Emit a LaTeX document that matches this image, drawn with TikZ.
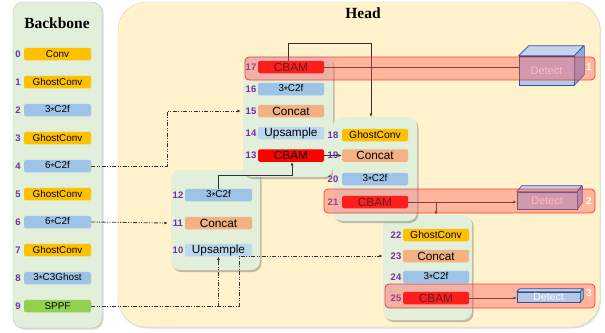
\documentclass[tikz,border=0pt]{standalone}
\usepackage{fontspec}
\setmainfont{Liberation Serif}
\setsansfont{Liberation Sans}
\usetikzlibrary{arrows.meta,shadows,fit}
\definecolor{bbgreen}{HTML}{E2EFDA}
\definecolor{headbg}{HTML}{FFF2CC}
\definecolor{cgold}{HTML}{FFC000}
\definecolor{cblue}{HTML}{9DC3E6}
\definecolor{cltblue}{HTML}{BDD7EE}
\definecolor{csalmon}{HTML}{F4B183}
\definecolor{cgreen}{HTML}{92D050}
\definecolor{cred}{HTML}{FF0000}
\definecolor{cpurple}{HTML}{7030A0}
\definecolor{cubefront}{HTML}{B4C7E7}
\definecolor{cubetop}{HTML}{C5D4EE}
\definecolor{cubedark}{HTML}{8FAADC}
\definecolor{cubeline}{HTML}{2F528F}
\definecolor{bandfill}{HTML}{FF5050}
\definecolor{lineg}{HTML}{333333}
\newcommand\fsz[1]{\fontsize{#1}{#1}\selectfont}
\newcommand\st{\raisebox{-1.3pt}{*}}
\begin{document}
\begin{tikzpicture}[x=1pt,y=-1pt,
  blk/.style={rounded corners=1.5pt, minimum height=12.5pt, inner sep=0pt, font=\sffamily\fsz{9.9}},
  bb/.style={blk, minimum width=67pt},
  hd/.style={blk, minimum width=66pt},
  big/.style={font=\sffamily\fsz{11.8}},
  mid/.style={font=\sffamily\fsz{10.3}},
  num/.style={font=\sffamily\bfseries\fsz{9.5}, text=cpurple, inner sep=1pt},
  panel/.style={rounded corners=9pt, fill=bbgreen, inner sep=0pt,
    drop shadow={shadow xshift=1.5pt, shadow yshift=-2pt, opacity=0.35, fill=black!70}},
  band/.style={rounded corners=4pt, fill=bandfill, fill opacity=0.38, draw=red, draw opacity=0.7, line width=0.8pt, inner sep=0pt},
  conn/.style={draw=lineg, line width=1pt},
  dd/.style={draw=lineg, line width=0.85pt, dash pattern=on 4pt off 1.5pt on 1pt off 1.5pt on 1pt off 1.5pt},
  arr/.style={-{Latex[length=3.4pt,width=2.8pt]}},
  cubef/.style={draw=cubeline, fill=cubefront, line width=0.6pt, inner sep=0pt, text=white, font=\sffamily\fsz{11}},
  cubee/.style={draw=cubeline, line width=0.6pt, line join=round},
  bandnum/.style={font=\sffamily\bfseries\fsz{10}, text=white, inner sep=0pt}
]
\useasboundingbox (0,0) rectangle (605,332);
% big panels
\node[fit={(118,2) (600,327)}, inner sep=0pt, rounded corners=28pt, fill=headbg, draw=black!18,
  drop shadow={shadow xshift=1pt, shadow yshift=-1.5pt, opacity=0.25}] (head) {};
\node[fit={(13,2) (102,328)}, inner sep=0pt, rounded corners=10pt, fill=bbgreen, draw=black!25,
  drop shadow={shadow xshift=1.5pt, shadow yshift=-1.5pt, opacity=0.3}] (back) {};
\node[font=\bfseries\fsz{15.5}] (tback) at (57,23) {Backbone};
\node[font=\bfseries\fsz{15.5}] (thead) at (363,13) {Head};
% backbone blocks
\foreach \i/\t/\c in {0/Conv/cgold,1/GhostConv/cgold,2/3\st C2f/cblue,3/GhostConv/cgold,
  4/6\st C2f/cblue,5/GhostConv/cgold,6/6\st C2f/cblue,7/GhostConv/cgold,8/3\st C3Ghost/cblue,9/SPPF/cgreen}{
  \node[bb, fill=\c] (b\i) at (57.5,54+28*\i) {\t};
  \node[num] (nb\i) at (18,54+28*\i) {\i};
}
% head sub-panels
\node[panel, fit={(171,170) (260,270)}] (pC) {};
\node[panel, fit={(383,215) (472,320)}] (pD) {};
\node[panel, fit={(243,56) (333,177)}] (pA) {};
\node[panel, fit={(333,117) (417,221)}] (pB) {};
% column A
\node[hd, big, fill=cred] (c17) at (291,67) {CBAM};
\node[hd, fill=cblue] (c16) at (291,89) {3\st C2f};
\node[hd, big, fill=csalmon] (c15) at (291,111) {Concat};
\node[hd, big, fill=cltblue] (c14) at (291,133) {Upsample};
\node[hd, big, fill=cred] (c13) at (291,155.5) {CBAM};
\foreach \i/\y in {17/67,16/89,15/111,14/133,13/155.5}{\node[num] (n\i) at (251,\y) {\i};}
% column B
\node[hd, mid, fill=cgold] (c18) at (375,135) {GhostConv};
\node[hd, big, fill=csalmon] (c19) at (375,155.5) {Concat};
\node[hd, fill=cblue] (c20) at (375,179) {3\st C2f};
\node[hd, big, fill=cred] (c21) at (375,202) {CBAM};
% column C
\node[hd, minimum width=67pt, fill=cblue] (c12) at (218.5,195) {3\st C2f};
\node[hd, big, minimum width=67pt, fill=csalmon] (c11) at (218.5,223) {Concat};
\node[hd, big, minimum width=67pt, fill=cltblue] (c10) at (218.5,250) {Upsample};
\foreach \i/\y in {12/195,11/223,10/250}{\node[num] (n\i) at (178,\y) {\i};}
% column D
\node[hd, mid, fill=cgold] (c22) at (436,235) {GhostConv};
\node[hd, big, fill=csalmon] (c23) at (436,256) {Concat};
\node[hd, fill=cblue] (c24) at (436,277) {3\st C2f};
\node[hd, big, fill=cred] (c25) at (436,298) {CBAM};
\foreach \i/\y in {22/235,23/256,24/277,25/298}{\node[num] (n\i) at (396,\y) {\i};}
% cubes 1 and 2
\node[cubef, minimum width=55pt, minimum height=29pt] (d1) at (546.5,70.5) {Detect};
\draw[cubee, fill=cubetop] (d1.north west) -- ++(10,-10) -- ++(55,0) -- (d1.north east) -- cycle;
\draw[cubee, fill=cubedark] (d1.north east) -- ++(10,-10) -- ++(0,29) -- (d1.south east) -- cycle;
\node[cubef, minimum width=60pt, minimum height=17pt] (d2) at (547,200.5) {Detect};
\draw[cubee, fill=cubetop] (d2.north west) -- ++(5,-6) -- ++(60,0) -- (d2.north east) -- cycle;
\draw[cubee, fill=cubedark] (d2.north east) -- ++(5,-6) -- ++(0,17) -- (d2.south east) -- cycle;
% solid connectors
\coordinate (j1) at (371,43);
\coordinate (t18) at (371,117);
\draw[conn, arr] ([xshift=-3pt]c17.north) |- (j1) -- (t18);
\draw[conn] (c17.east) -- (c17.east -| d1.west);
\draw[conn, arr] (c13.east) -- (c19.west);
\draw[conn, arr] (c12.north) -- ++(0,-13) -| ([xshift=1pt]c13.south);
\draw[conn, arr] (c21.east) -- (c21.east -| d2.west);
\coordinate (br) at (436,202);
\draw[conn, arr] (br) -- (br |- pD.north);
\draw[conn, arr] (c25.east) -- (517,298);
% numbers for column B (over the connector)
\foreach \i/\y in {18/135,19/155.5,20/179,21/202}{\node[num] (n\i) at (333,\y) {\i};}
% dash-dot connectors
\coordinate (j3) at (167,111);
\coordinate (j4) at (239,256);
\draw[dd, arr] (b4.east) -| (j3) -- ([xshift=-2pt]c15 -| pA.west);
\draw[dd, arr] (b6.east) -- ([xshift=-3pt]c11 -| pC.west);
\draw[dd, arr] (b9.east) -| (c10.south);
\draw[dd, arr] (b9.east) -| (j4) -- (c23 -| pD.west);
% bands
\node[band, fit={(245,57) (595,80)}] (band1) {};
\node[band, fit={(324,189) (595,213)}] (band2) {};
\node[band, fit={(385,284) (595,308)}] (band3) {};
% cube 3 (above its band)
\node[cubef, minimum width=63pt, minimum height=10pt, font=\sffamily\fsz{10.5}] (d3) at (548.5,297) {Detect};
\draw[cubee, fill=cubetop] (d3.north west) -- ++(3,-3) -- ++(63,0) -- (d3.north east) -- cycle;
\draw[cubee, fill=cubedark] (d3.north east) -- ++(3,-3) -- ++(0,10) -- (d3.south east) -- cycle;
% band labels
\node[bandnum] (l1) at (589,67) {1};
\node[bandnum] (l2) at (589,201) {2};
\node[bandnum] (l3) at (589,293) {3};
\end{tikzpicture}
\end{document}
